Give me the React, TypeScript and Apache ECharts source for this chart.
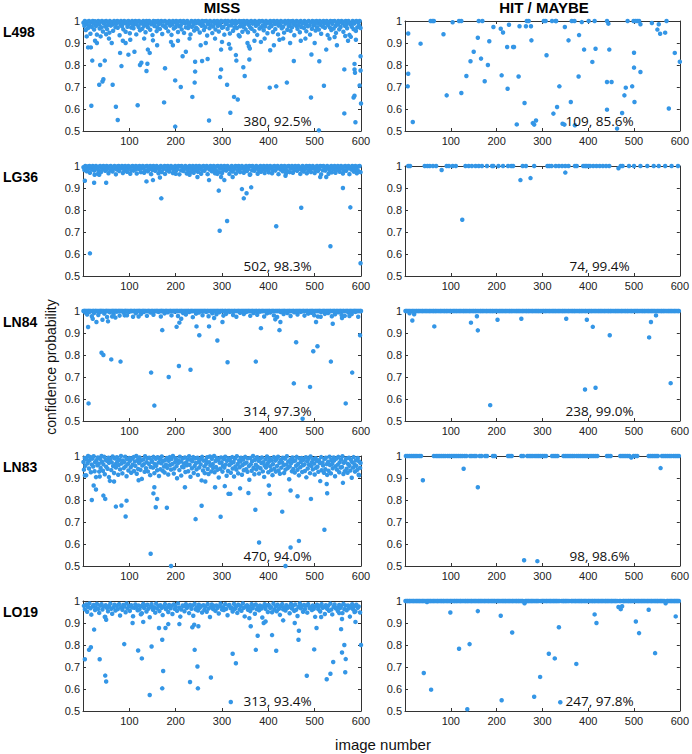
import React, { useEffect, useRef } from "react";
import * as echarts from "echarts";

const columnTitles = ["MISS", "HIT / MAYBE"];
const rowLabels = ["L498", "LG36", "LN84", "LN83", "LO19"];
const annotations = [
  ["380, 92.5%", "109, 85.6%"],
  ["502, 98.3%", "74, 99.4%"],
  ["314, 97.3%", "238, 99.0%"],
  ["470, 94.0%", "98, 98.6%"],
  ["313, 93.4%", "247, 97.8%"],
];
const xAxisName = "image number";
const yAxisName = "confidence probability";

// flat arrays of [image number, confidence in %]
const l498MissOut = [8,93, 11,88, 17,88, 20,82, 18,61.5, 30,90, 37,80, 47,82, 35,71, 42,72.5, 44,73.5, 38,93, 50,94, 62,90, 64,71, 71,61, 75,55, 80,85.5, 83,79.5, 86,91, 98,84.7, 102,91.5, 111,86, 118,61.7, 123,80, 126,81, 137,77.3, 139,80.6, 140,87, 144,85.5, 151,91.2, 175,63, 177,78.5, 190,90.5, 194,89, 199,73, 199,52, 211,70, 215,84, 222,86, 236,65.5, 241,72, 242,77, 242,81.5, 254,89, 257,81.8, 269,82.7, 272,54.8, 296,74.5, 298,78, 298,87, 300,90.5, 311,71, 318,58.3, 318,87.5, 326,65.5, 330,84.5, 331,82, 334,64.3, 338,93, 346,79, 349,75, 355,90, 358,88.5, 360,87.5, 359,82.5, 384,90.5, 403,69.7, 404,86.7, 417,70.3, 424,91.5, 440,72, 455,81.8, 480,92, 492,65.2, 493,84.8, 509,50.3, 510,81.7, 520,70.6, 525,87, 543,92.7, 564,78, 564,58, 566,93.2, 578,92.8, 586,78, 587,76.5, 586,80.5, 599,84, 599,77.5, 597,70.7, 584,65.2, 586,66, 588,54, 600,62.5, 589,91.5, 26,91, 56,92, 92,90, 132,92, 160,89, 205,91, 230,92, 265,90, 285,92, 315,89.5, 370,91, 392,92, 412,89, 432,92, 447,90, 470,91, 500,90, 532,92, 548,89, 572,91];
const l498MissBand = [1,99.2,3,97.8,4,100,6,95.9,8,98.6,9,99.7,11,96.8,13,100,14,98.1,16,94.2,18,99.5,19,97.3,21,100,23,98.8,24,96.1,26,99.9,28,97.7,30,93.8,31,99.1,33,100,35,98.4,36,96.6,38,99.6,40,97.1,41,100,43,95.2,45,98.9,47,99.8,48,97.5,50,100,52,96.3,53,98.2,55,99.4,57,94.7,58,100,60,97.9,62,99.3,64,98.5,65,95.6,67,100,69,99,70,97.2,72,98.7,74,100,75,96.9,77,99.6,79,93.5,81,98.3,82,100,84,97.6,86,99.1,87,96.2,89,100,91,98.9,92,95.1,94,99.7,96,97.4,98,100,99,98.6,101,94.4,103,99.2,104,97,106,100,108,98.1,109,96.7,111,99.5,113,100,115,93.9,116,98.4,118,99.8,120,97.3,121,100,123,95.8,125,98.8,126,99.4,128,96.5,130,100,132,97.8,133,99,135,94.9,137,100,138,98.2,140,97.1,142,99.6,143,100,145,96,147,98.5,149,99.3,150,93.6,152,100,154,97.7,155,98.9,157,99.9,159,95.4,160,97.2,162,100,164,98.6,166,96.4,167,99.1,169,100,171,94.1,172,98,174,99.7,176,97.5,177,100,179,96.9,181,98.8,183,99.4,184,95.3,186,100,188,97.9,189,99.2,191,93.7,193,98.4,194,100,196,96.6,198,99.5,200,97.3,201,100,203,98.7,205,95,206,99.8,208,97.6,210,100,211,98.1,213,96.2,215,99.3,217,100,218,94.6,220,98.9,222,97.1,223,99.6,225,100,227,96.8,228,98.3,230,99,232,93.9,234,100,235,97.4,237,99.7,239,98.5,240,95.7,242,100,244,97,245,99.2,247,96.3,249,100,251,98.8,252,94.8,254,99.5,256,97.8,257,100,259,98.2,261,95.9,262,99.9,264,97.2,266,100,268,93.4,269,98.6,271,99.3,273,96.7,274,100,276,98,278,99.6,279,94.5,281,97.5,283,100,285,98.9,286,96.1,288,99.1,290,100,291,97.7,293,95.2,295,99.4,296,98.3,298,100,300,96.9,302,99.8,303,97.3,305,93.8,307,100,308,98.6,310,99,312,96.4,313,100,315,97.9,317,94.3,319,99.7,320,98.1,322,100,324,95.6,325,99.2,327,97.1,329,100,330,98.7,332,96.8,334,99.5,336,93.6,337,100,339,97.6,341,98.9,342,99.9,344,95.1,346,97.4,347,100,349,98.4,351,96.2,353,99.3,354,100,356,94.9,358,98.2,359,99.6,361,97,363,100,364,96.5,366,98.8,368,99.1,370,95.4,371,100,373,97.8,375,99.4,376,93.7,378,98.5,380,100,381,96.6,383,99.7,385,97.2,387,100,388,98,390,95.8,392,99.2,393,97.5,395,100,397,98.9,398,94.4,400,99.5,402,96.9,404,100,405,98.3,407,97.7,409,99.8,410,95,412,100,414,98.6,415,96.3,417,99,419,100,421,93.9,422,97.9,424,99.3,426,98.1,427,100,429,96.7,431,99.6,432,97.4,434,94.7,436,100,437,98.8,439,99.2,441,96,443,100,444,97.6,446,98.4,448,95.5,449,99.9,451,97.1,453,100,454,98.7,456,93.5,458,99.4,460,97.8,461,100,463,96.4,465,98.2,466,99.7,468,94.9,470,100,471,97.3,473,98.9,475,99.1,477,96.8,478,100,480,98.5,482,95.3,483,99.5,485,97.6,487,100,488,98,490,93.8,492,99.3,494,96.5,495,100,497,97.9,499,99.8,500,98.6,502,95.7,504,100,505,97.2,507,99,509,96.1,511,100,512,98.3,514,94.2,516,99.6,517,97.5,519,100,521,98.8,522,96.9,524,99.2,526,100,528,93.6,529,98.1,531,99.4,533,97,534,100,536,95.9,538,98.7,539,99.9,541,96.6,543,100,545,97.7,546,94.6,548,99.1,550,98.4,551,100,553,96.2,555,99.5,556,97.3,558,100,560,98.9,562,95.1,563,99.7,565,97.8,567,100,568,98.2,570,96.7,572,99.3,573,100,575,93.7,577,98.5,579,99,580,97.4,582,100,584,96.3,585,98.8,587,99.6,589,95.5,590,100,592,97.1,594,99.2,596,98,597,100,599,96.8];
const l498HitOut = [7,94.3, 7,76, 6,70.3, 17,54.1, 34,89.7, 56,100, 63,100, 84,94, 91,66.2, 104,99.4, 118,100, 123,100, 123,67.3, 134,75, 143,81.7, 150,86, 159,92.4, 166,82.9, 174,72.6, 181,80, 161,100, 169,100, 184,90.8, 193,97.3, 209,96.5, 214,94.8, 211,75.3, 224,69.2, 223,88.2, 236,88.2, 238,88.2, 227,98.3, 244,53, 248,74.8, 250,97.6, 261,62.7, 264,97.6, 266,100, 275,97.6, 270,100, 276,91.2, 279,53.6, 282,52.9, 286,54.8, 303,100, 307,100, 309,84.4, 321,100, 329,100, 324,57.9, 332,60.9, 337,70.3, 344,53.3, 348,52.9, 349,97.3, 357,91.2, 362,63.2, 364,100, 370,100, 371,52.6, 380,93.6, 379,74.8, 386,99.5, 391,87, 401,100, 414,100, 409,81.4, 416,87.4, 441,100, 444,98.8, 441,72.3, 451,72.3, 446,87, 441,59.7, 463,51.1, 474,58.2, 479,66.2, 482,69.7, 486,100, 496,70.3, 500,85.6, 500,78.8, 501,63.2, 499,100, 507,100, 511,100, 514,98.5, 514,76.8, 539,99.1, 554,98.5, 551,96.1, 557,94.2, 568,94.7, 571,100, 576,60.2, 589,85.5, 600,81.5, 60,100, 330,100, 503,100];

const lg36MissOut = [4,93.3, 15,60.3, 24,92.4, 25,96, 35,96, 50,92.4, 137,93, 151,93.6, 166,94.8, 169,85.3, 247,95, 272,93.6, 290,96.4, 293,88.8, 295,70.6, 311,75, 298,95, 305,93.6, 323,95, 343,89.5, 347,85.3, 353,87.6, 363,90.3, 417,72.6, 437,95.6, 471,81, 512,95, 525,95, 534,63.5, 561,90, 577,81.2, 599,55.8, 585,97.5, 300,97, 230,96, 200,96.5, 360,96];
const lg36MissBand = [1,99.4,3,98.2,5,100,6,99.1,8,97.6,10,99.8,12,98.7,14,100,15,96.9,17,99.3,19,98.5,21,100,23,99.6,24,97.9,26,98.9,28,100,30,99.2,32,96.4,33,98.1,35,99.7,37,100,39,97.3,41,99,42,98.6,44,100,46,99.5,48,97.8,50,98.3,51,100,53,99.1,55,96.7,57,99.8,59,98,60,100,62,99.4,64,97.5,66,98.8,68,100,69,99.2,71,96.2,73,98.4,75,99.9,77,100,78,97.7,80,99.3,82,98.9,84,100,86,96.8,87,99.6,89,98.2,91,100,93,99,95,97.4,96,98.7,98,100,100,99.5,102,96.5,104,98.1,105,99.8,107,100,109,97.9,111,99.2,113,98.4,114,100,116,96.6,118,99.7,120,98.6,122,100,123,99.1,125,97.2,127,98.9,129,100,131,99.4,132,96.9,134,98,136,99.9,138,100,140,97.6,141,99.3,143,98.5,145,100,147,96.3,149,99.6,150,98.2,152,100,154,99,156,97.8,158,98.8,159,100,161,99.5,163,96.7,165,98.3,167,99.7,168,100,170,97.3,172,99.2,174,98.7,176,100,177,96.4,179,99.8,181,98.1,183,100,185,99.3,186,97.5,188,98.9,190,100,192,99.1,194,96.8,195,98.4,197,99.6,199,100,201,97.9,203,99.4,204,98.6,206,100,208,96.2,210,99.9,212,98,213,100,215,99.2,217,97.7,219,98.8,221,100,222,99.5,224,96.6,226,98.2,228,99.7,230,100,231,97.1,233,99,235,98.5,237,100,239,96.9,240,99.3,242,98.3,244,100,246,99.6,248,97.4,249,98.7,251,100,253,99.1,255,96.5,257,98.1,258,99.8,260,100,262,97.8,264,99.4,266,98.9,267,100,269,96.3,271,99.2,273,98.4,275,100,276,99.7,278,97.6,280,98.6,282,100,284,99,285,96.7,287,98,289,99.9,291,100,293,97.2,294,99.5,296,98.8,298,100,300,96.8,302,99.3,303,98.2,305,100,307,99.6,309,97.9,311,98.5,312,100,314,99.1,316,96.4,318,98.3,320,99.7,321,100,323,97.5,325,99.2,327,98.7,329,100,330,96.6,332,99.8,334,98.1,336,100,338,99.4,339,97.3,341,98.9,343,100,345,99,347,96.9,348,98.4,350,99.6,352,100,354,97.7,356,99.3,357,98.6,359,100,361,96.2,363,99.9,365,98,366,100,368,99.2,370,97.8,372,98.8,374,100,375,99.5,377,96.5,379,98.2,381,99.7,383,100,384,97.4,386,99.1,388,98.5,390,100,392,96.8,393,99.4,395,98.3,397,100,399,99.6,401,97.1,402,98.7,404,100,406,99,408,96.7,410,98.1,411,99.8,413,100,415,97.9,417,99.3,419,98.9,420,100,422,96.3,424,99.2,426,98.4,428,100,429,99.7,431,97.6,433,98.6,435,100,437,99.1,438,96.6,440,98,442,99.9,444,100,446,97.2,447,99.5,449,98.8,451,100,453,96.9,455,99.3,456,98.2,458,100,460,99.6,462,97.8,464,98.5,465,100,467,99,469,96.4,471,98.3,473,99.7,474,100,476,97.5,478,99.2,480,98.7,482,100,483,96.7,485,99.8,487,98.1,489,100,491,99.4,492,97.3,494,98.9,496,100,498,99.1,500,96.8,501,98.4,503,99.6,505,100,507,97.7,509,99.3,510,98.6,512,100,514,96.2,516,99.9,518,98,519,100,521,99.2,523,97.9,525,98.8,527,100,528,99.5,530,96.5,532,98.2,534,99.7,536,100,537,97.1,539,99,541,98.5,543,100,545,96.9,546,99.4,548,98.3,550,100,552,99.6,554,97.4,555,98.7,557,100,559,99.1,561,96.6,563,98.1,564,99.8,566,100,568,97.8,570,99.3,572,98.9,573,100,575,96.3,577,99.2,579,98.4,581,100,582,99.7,584,97.6,586,98.6,588,100,590,99,591,96.7,593,98,595,99.9,597,100,599,97.2];
const lg36HitOut = [80,98.2, 125,75.6, 252,93.6, 274,94.5, 350,97, 466,99];
const lg36HitTopX = [7,11,43,49,54,61,68,91,96,104,111,132,139,146,154,161,168,179,193,204,214,225,232,257,264,282,311,315,329,336,343,350,357,371,375,389,393,396,404,411,418,425,432,439,446,471,475,489,500,514,529,543,554,568,582,596,190,320,400,236];

const ln84MissOut = [11,92.7, 12,58, 21,96.5, 29,95, 42,96, 54,95.3, 40,81, 44,80, 61,78, 81,77, 147,72, 154,57, 171,91.3, 185,70, 202,92.8, 207,75, 208,94.7, 212,96.5, 232,73.3, 245,93, 251,89, 272,93, 283,96.8, 290,86.6, 301,95, 312,76.7, 373,77, 384,92.2, 415,96.2, 424,91.3, 426,95, 455,67.1, 460,85.8, 474,51, 490,65.5, 497,81.7, 506,84, 503,95, 513,97.4, 535,77, 539,94.2, 559,96.8, 567,58, 581,72, 575,97.7, 598,89, 63,97.5, 70,97, 90,98, 120,97.5];
const ln84MissNear = [5,99.3, 9,98.4, 14,99.6, 19,97.6, 24,99.1, 33,98.2, 37,99.5, 46,98.8, 52,97.3, 58,99.4, 66,98.5, 73,99.7, 79,97.9, 88,99.2, 95,98.1, 99,99.6, 108,97.4, 114,99, 125,98.6, 131,99.5, 138,97.8, 146,99.3, 152,98.3, 163,99.6, 168,97.5, 176,98.9, 183,99.4, 191,98, 198,99.7, 205,97.7, 216,99.1, 222,98.4, 229,99.5, 237,97.2, 244,98.8, 250,99.3, 258,98.1, 266,99.6, 271,97.6, 279,99, 288,98.5, 294,99.4, 303,97.9, 309,98.7, 317,99.6, 324,98.2, 331,97.4, 339,99.2, 347,98.6, 352,99.5, 361,97.8, 368,99.1, 376,98.3, 382,99.7, 391,97.5, 397,98.9, 404,99.3, 412,98, 419,97.3, 427,99.5, 433,98.6, 441,99.1, 448,97.7, 456,99.4, 463,98.4, 470,99.6, 478,97.9, 486,98.8, 493,99.2, 499,98.1, 507,97.5, 514,99.5, 522,98.7, 529,99.1, 537,97.6, 544,98.5, 551,99.4, 558,98.2, 565,97.8, 573,99.3, 580,98.6, 588,99.6, 594,97.4];
const ln84MissTopX = [1,3,4,6,8,10,12,13,15,17,20,22,23,26,27,29,31,34,36,38,39,41,43,45,48,50,51,53,55,57,60,62,64,65,67,69,71,72,75,77,78,80,82,84,86,89,91,92,94,96,98,101,103,104,106,109,111,112,115,117,119,121,122,124,127,129,130,132,134,136,139,141,142,144,147,149,150,153,155,157,159,160,162,165,167,169,170,172,174,177,179,180,182,185,187,189,190,193,195,197,199,201,203,204,207,209,211,213,214,217,219,221,223,225,227,228,231,233,235,236,239,241,243,245,247,249,251,253,255,257,259,261,263,264,267,269,270,273,275,277,279,281,283,285,287,289,291,292,295,297,299,301,302,305,307,308,311,313,315,316,319,321,323,326,327,329,332,334,336,337,340,342,344,346,348,350,352,354,356,358,359,362,364,366,367,370,372,374,375,378,380,381,384,386,388,389,392,394,396,398,400,402,403,406,408,410,411,414,416,418,420,422,424,425,428,430,432,434,435,437,440,442,444,446,447,450,452,454,455,458,460,462,464,466,468,469,472,474,476,477,480,482,484,485,488,490,492,494,495,497,500,502,504,506,508,510,511,513,516,518,520,521,524,526,528,530,532,534,535,538,540,542,543,546,548,549,552,554,556,557,560,562,563,566,568,570,571,574,576,578,579,582,584,586,587,589,591,593,595,597,599,600];
const ln84HitOut = [16,95.7, 64,93, 144,94.7, 157,97.6, 159,91.2, 202,96, 254,96.5, 186,57.2, 352,96.5, 397,96, 410,92.8, 393,64.3, 416,65.1, 447,89, 533,88, 537,95, 548,98, 580,67.2, 10,99, 20,98.5];
const ln84HitTopX = [1,3,5,8,10,13,16,18,21,24,26,29,31,34,37,39,42,45,47,50,53,55,58,61,63,66,68,71,74,77,79,82,85,87,90,92,95,98,100,103,106,108,111,113,116,119,121,124,127,129,132,134,137,140,142,145,148,150,153,155,158,161,164,166,169,171,174,177,179,182,185,187,190,192,195,198,200,203,206,208,211,213,216,219,221,224,227,229,232,234,237,240,243,245,248,250,253,256,258,261,264,266,269,271,274,277,279,282,285,287,290,292,295,298,301,303,306,308,311,314,316,319,322,324,327,329,332,335,337,340,343,345,348,350,353,356,358,361,364,366,369,371,374,377,380,382,385,387,390,393,395,398,401,403,406,408,411,414,416,419,422,424,427,429,432,435,437,440,443,445,448,450,453,456,459,461,464,466,469,472,474,477,480,482,485,487,490,493,495,498,501,503,506,508,511,514,517,519,522,524,527,530,532,535,538,540,543,545,548,551,553,556,559,561,564,566,569,572,575,577,580,582,585,588,590,593,596,598];

const ln83MissOut = [4,91.2, 19,80, 28,84.8, 23,86.6, 44,82, 48,80.5, 36,90.7, 56,90.4, 71,77, 83,77.5, 94,79.7, 92,72.5, 67,88.4, 120,89, 146,55.6, 152,83, 154,85.8, 160,80.5, 157,76.7, 181,76.5, 190,50, 220,85.8, 243,71.3, 256,77.4, 264,88.4, 285,85.8, 297,72.4, 306,86.3, 314,82.8, 318,82.8, 339,85.3, 357,83.2, 372,75.6, 380,60.7, 401,86.6, 403,82.8, 430,74.7, 437,50, 448,84.3, 448,58.4, 463,81.7, 466,61.4, 492,80.5, 521,66.5, 526,87.3, 527,83.1, 561,87.8, 596,91.2];
const ln83MissBand = [1,97.3,2,93.8,4,99.1,5,95.6,7,91.2,8,98.4,10,96.7,11,100,13,94.3,14,97.9,16,99.5,17,92.6,19,96.1,20,98.8,22,95.2,23,99.9,25,93.1,26,97.2,28,90.4,29,98.1,31,95.8,32,99.3,34,96.5,35,92.9,37,98.7,38,94.6,40,100,41,97.4,43,93.3,44,96.2,46,99.6,47,91.7,49,98.2,50,95.1,52,97.8,53,94.2,55,99.2,56,96.9,58,88.7,59,98.5,61,93.6,62,97.1,64,99.8,65,95.4,67,92.3,68,98.9,70,96.3,71,94.8,73,99.4,74,97.6,76,91.5,77,95.9,79,98.3,80,93.9,82,100,83,96.6,85,92.1,86,98,88,94.5,89,97.3,91,99.7,92,95.3,94,90.8,95,98.6,97,96.4,98,93.4,100,99.1,101,97.7,103,94.9,104,92.4,106,98.8,107,96,109,99.5,110,93.2,112,97.5,113,95.5,115,100,116,91.9,118,98.2,119,94.1,121,96.8,122,99.3,124,93.7,125,97.9,127,89.6,128,95.7,130,98.4,131,96.2,133,92.8,134,99.9,136,94.4,137,97.2,139,98.9,140,93,142,96.5,143,99.2,145,91.3,146,95,148,98.1,149,97.4,151,94.7,152,99.6,154,92.2,155,96.3,157,98.7,158,95.6,160,93.5,161,99.4,163,97,164,90.9,166,98.5,167,94,169,96.7,170,99.8,172,93.3,173,97.7,175,95.2,176,92.5,178,98.3,179,96.1,181,99.1,182,94.6,184,91.6,185,97.8,187,99.5,188,95.9,190,93.8,191,98.6,193,96.4,194,100,196,92,197,94.3,199,97.3,200,99,202,95.4,203,89.9,205,98,206,96.9,208,93.6,209,99.7,211,97.5,212,91.1,214,95.1,215,98.8,217,94.9,218,96.6,220,99.3,221,92.7,223,97.1,224,95.8,226,98.4,227,93.1,229,99.9,230,96,232,90.6,233,98.2,235,94.4,236,97.6,238,99.5,239,92.3,241,95.5,242,98.9,244,96.8,245,93.9,247,99.2,248,91.4,250,97.4,251,94.8,253,98.5,254,96.2,256,88.9,257,99.6,259,93.4,260,97.9,262,95.3,263,92.2,265,98.1,266,96.5,268,99.4,269,94.1,271,91.8,272,97.2,274,99.8,275,95.7,277,93,278,98.7,280,96.3,281,94.5,283,100,284,92.6,286,97.7,287,95,289,99.1,290,93.7,292,98.3,293,90.2,295,96.9,296,94.2,298,99.3,299,97.1,301,92.9,302,95.6,304,98.6,305,94.7,307,99.7,308,96.1,310,91,311,97.8,313,93.2,314,99,316,95.9,317,98.2,319,92.4,320,96.7,322,99.5,323,94.3,325,97.3,326,90.7,328,98.8,329,95.2,331,93.8,332,99.9,334,96.4,335,92.1,337,98,338,94.9,340,97.5,341,99.2,343,91.5,344,95.8,346,98.4,347,93.5,349,96.6,350,99.6,352,94,353,97,355,92.8,356,98.9,358,95.4,359,89.2,361,99.1,362,96.2,364,93.3,365,97.6,367,100,368,94.6,370,91.7,371,98.3,373,96,374,93.9,376,99.4,377,95.1,379,97.8,380,92,382,98.7,383,94.4,385,96.8,386,99.3,388,93,389,97.2,391,90.5,392,95.7,394,98.5,395,94.8,397,99.8,398,96.5,400,92.6,401,97.4,403,99,404,95.3,406,93.6,407,98.1,409,91.3,410,96.3,412,99.5,413,94.2,415,97.9,416,92.9,418,98.6,419,95.5,421,99.7,422,93.4,424,96.9,425,91.9,427,98.2,428,94.7,430,97.1,431,99.2,433,95.9,434,92.3,436,98.8,437,93.8,439,96.1,440,99.9,442,94.5,443,97.5,445,89.4,446,95.2,448,98.4,449,96.7,451,93.1,452,99.3,454,94.1,455,97.7,457,92.5,458,98,460,95.6,461,99.6,463,93.7,464,96.4,466,91.2,467,98.9,469,94.9,470,97.3,472,99.1,473,92.7,475,95.8,476,98.3,478,96.2,479,93.2,481,99.4,482,90.3,484,97.6,485,94.3,487,98.7,488,96,490,92.2,491,99.8,493,95.4,494,97.2,496,93.9,497,98.5,499,96.6,500,91.6,502,99,503,94.6,505,97.8,506,95.1,508,92.8,509,98.1,511,96.8,512,88.6,514,99.5,515,93.5,517,97,518,95.7,520,92.4,521,98.6,523,94,524,99.2,526,96.3,527,91.4,529,97.4,530,93.3,532,99.7,533,95.9,535,92.1,536,98.2,538,96.5,539,94.4,541,99.3,542,97.9,544,90.8,545,95.3,547,98.8,548,93.8,550,96.1,551,99.6,553,92.6,554,97.1,556,94.8,557,98.4,559,95,560,99.9,562,91.8,563,96.9,565,93.1,566,97.7,568,98.9,569,94.2,571,92.4,572,96.4,574,99.2,575,95.6,577,93.4,578,98.3,580,90.1,581,97.2,583,94.7,584,99.5,586,96.2,587,92.9,589,98,590,95.5,592,93.7,593,99.1,595,91.5,596,97.5,598,94.6,599,96.8];
const ln83HitOut = [39,89, 128,94.2, 159,85.8, 260,52.6, 289,52.2, 558,94.5, 494,99.3];
const ln83HitTopX = [2,10,18,26,35,63,68,76,84,93,101,109,117,121,130,142,151,163,175,192,196,225,233,254,267,275,284,292,300,304,325,329,350,358,366,375,383,391,399,408,420,441,449,470,478,486,499,507,532,540,548,561,569,577,586,594,598,6,14,22,31,72,80,88,97,105,113,125,134,146,155,167,179,229,258,271,279,288,296,308,321,333,346,354,362,370,379,387,395,404,412,416,445,474,482,490,503,536,544,552,565,573,581,590];

const lo19MissOut = [4,73.5, 13,77.8, 17,79, 24,87, 36,73.5, 48,92.7, 50,91.5, 48,66.1, 50,63.4, 89,80.4, 107,90, 119,77.5, 127,73.9, 125,94, 130,90.5, 144,57.3, 148,79.3, 164,87.7, 171,82.4, 173,68.2, 171,60.3, 178,87.7, 184,89.5, 208,89.5, 231,63.2, 236,88.1, 240,89.2, 241,77.8, 247,70.2, 248,60.3, 249,88.5, 276,65.2, 319,54.1, 323,76, 330,71.7, 359,92.2, 362,88.5, 373,77.8, 377,84.2, 390,90, 394,90.7, 408,84.5, 417,77.4, 432,91.2, 457,90, 465,82.4, 466,86.5, 483,66, 499,78, 504,87.7, 514,92.7, 526,64.4, 534,66.9, 540,72.3, 553,94.5, 557,87.2, 559,91.8, 559,76.6, 564,80, 567,73.6, 566,67.6, 588,90.5, 600,80, 586,95];
const lo19MissBand = [2,97.8,4,96.2,7,98.4,9,95.1,11,97.3,14,98.9,16,96.7,18,93.8,21,97.5,23,98.2,26,95.9,28,97,30,98.7,33,96.4,35,94.6,37,97.9,40,98.5,42,96.1,44,97.4,47,92.8,49,98.1,52,96.8,54,95.3,56,97.6,59,98.8,61,96.5,63,94.2,66,97.2,68,98.3,70,95.7,73,97.8,75,96.3,78,98.6,80,93.4,82,97.1,85,96,87,98.2,89,97.5,92,94.9,94,98.9,96,96.6,99,97.7,101,95.5,104,98.1,106,97,108,93.1,111,96.9,113,98.4,115,97.3,118,95.8,120,98,122,96.2,125,97.6,127,94.4,130,98.7,132,96.8,134,97.9,137,95.2,139,98.3,141,96.5,144,92.6,146,97.4,148,98.5,151,96,153,97.2,156,94.7,158,98.8,160,96.6,163,97.7,165,95.4,167,98.1,170,96.9,172,93.6,174,97.5,177,98.6,179,96.3,182,97.1,184,95,186,98.2,189,96.7,191,97.8,193,94.1,196,98.4,198,96.4,200,97.3,203,95.6,205,98.9,208,97,210,92.9,212,96.1,215,98,217,97.6,219,95.3,222,98.5,224,96.8,226,97.4,229,94.5,231,98.2,234,96.5,236,97.9,238,93.3,241,98.7,243,96.2,245,97.1,248,95.7,250,98.3,252,96.9,255,97.7,257,94.8,260,98.1,262,96,264,97.5,267,95.1,269,98.6,271,96.6,274,92.7,276,97.3,278,98.4,281,96.3,283,97.8,286,95.5,288,98,290,96.8,293,94.3,295,97.6,297,98.8,300,96.1,302,97.2,304,95.9,307,98.5,309,96.4,312,93.5,314,97.9,316,98.2,319,96.7,321,97,323,95.2,326,98.7,328,96.5,330,97.4,333,94.6,335,98.3,338,96.2,340,97.7,342,95.6,345,98.9,347,96.9,349,93,352,97.5,354,98.1,356,96,359,97.3,361,95.4,364,98.6,366,96.7,368,97.8,371,94.2,373,98.4,375,96.3,378,97.1,380,95.8,382,98,385,96.6,387,92.5,390,97.6,392,98.5,394,96.4,397,97.9,399,95,401,98.2,404,96.8,406,97.2,408,94.9,411,98.8,413,96.1,416,97.5,418,95.3,420,98.3,423,96.5,425,93.7,427,97.7,430,98.6,432,96.2,434,97,437,95.7,439,98.1,442,96.9,444,97.4,446,94.4,449,98.7,451,96.6,453,97.8,456,95.5,458,98.4,460,96,463,93.2,465,97.3,468,98.9,470,96.7,472,97.6,475,95.1,477,98.2,479,96.3,482,97.9,484,94.7,486,98.5,489,96.8,491,97.1,494,95.9,496,98,498,96.4,501,92.8,503,97.5,505,98.3,508,96.2,510,97.7,512,95.2,515,98.6,517,96.9,520,97.2,522,94.1,524,98.1,527,96.5,529,97.8,531,95.6,534,98.8,536,96.1,538,93.9,541,97.4,543,98.4,546,96.6,548,97,550,95.4,553,98.2,555,96.8,557,97.6,560,94.5,562,98.7,564,96.3,567,97.9,569,95.8,572,98,574,96.7,576,92.9,579,97.3,581,98.5,583,96.2,586,97.7,588,95.3,590,98.3,593,96.9,595,97.5,598,94.8];
const lo19HitOut = [41,67.3, 57,59.7, 99,94.8, 118,78.3, 141,80.4, 136,50.8, 159,95.4, 211,54.9, 209,93.3, 234,85.7, 282,56.5, 295,65.5, 314,76, 327,73.9, 336,88.1, 339,54, 374,71.4, 414,93.9, 418,90, 466,97.3, 471,96.3, 474,97.6, 504,90.7, 511,85.4, 532,96, 546,76.3, 569,99, 591,93, 261,99, 48,99.5];
const lo19HitTopX = [1,4,6,9,11,14,17,19,22,25,27,30,32,35,38,40,43,46,49,51,54,56,59,62,64,67,70,72,75,78,80,83,85,88,91,93,96,99,101,104,107,109,112,114,117,120,122,125,128,131,133,136,138,141,144,146,149,152,154,157,160,162,165,167,170,173,175,178,181,183,186,189,191,194,196,199,202,204,207,210,213,215,218,220,223,226,228,231,234,236,239,242,244,247,249,252,255,257,263,265,268,270,273,276,278,281,284,287,289,292,297,300,302,305,308,310,313,316,318,321,324,326,329,331,334,337,342,345,347,350,352,355,358,363,365,368,371,373,376,379,381,384,386,389,392,394,397,400,402,405,408,410,413,415,418,421,423,426,429,431,434,437,439,442,444,447,450,452,455,458,460,463,468,471,476,478,481,484,487,489,492,494,497,500,502,505,508,510,513,516,518,521,523,526,529,531,534,537,539,542,545,547,550,552,555,558,560,563,566,572,574,577,580,582,585,588,590,593,595,598];

const pairs = (flat: number[]) => {
  const out: number[][] = [];
  for (let i = 0; i < flat.length; i += 2) out.push([flat[i], flat[i + 1] / 100]);
  return out;
};
const tops = (xs: number[]) => xs.map((x) => [x, 1]);

const panelData = [
  [pairs(l498MissOut).concat(pairs(l498MissBand)), pairs(l498HitOut)],
  [pairs(lg36MissOut).concat(pairs(lg36MissBand)), pairs(lg36HitOut).concat(tops(lg36HitTopX))],
  [pairs(ln84MissOut).concat(pairs(ln84MissNear), tops(ln84MissTopX)), pairs(ln84HitOut).concat(tops(ln84HitTopX))],
  [pairs(ln83MissOut).concat(pairs(ln83MissBand)), pairs(ln83HitOut).concat(tops(ln83HitTopX))],
  [pairs(lo19MissOut).concat(pairs(lo19MissBand)), pairs(lo19HitOut).concat(tops(lo19HitTopX))],
];

const GRID_LEFT = [83, 405];
const GRID_W = 278;
const GRID_TOP = [21, 166, 311, 456, 601];
const GRID_H = 110;
const DOT = "#3496e6";
const AX = "#333";
const FONT = '"Liberation Sans", Arial, sans-serif';

export default function App() {
  const ref = useRef<HTMLDivElement>(null);
  useEffect(() => {
    if (!ref.current) return;
    const chart = echarts.init(ref.current, undefined, { renderer: "svg" });
    const grids: any[] = [];
    const xAxes: any[] = [];
    const yAxes: any[] = [];
    const series: any[] = [];
    const graphics: any[] = [];
    const tickCommon = { inside: true, length: 3, lineStyle: { color: AX, width: 1 } };
    const lineCommon = { show: true, onZero: false, lineStyle: { color: AX, width: 1 } };
    for (let r = 0; r < 5; r++) {
      for (let c = 0; c < 2; c++) {
        const gi = r * 2 + c;
        grids.push({ left: GRID_LEFT[c], top: GRID_TOP[r], width: GRID_W, height: GRID_H, containLabel: false });
        const xBase = { gridIndex: gi, type: "value", min: 0, max: 600, interval: 100, splitLine: { show: false }, axisLine: lineCommon, axisTick: tickCommon };
        xAxes.push({
          ...xBase,
          position: "bottom",
          axisLabel: { fontSize: 11, color: "#222", margin: 4, fontFamily: FONT, formatter: (v: number) => (v === 0 ? "" : String(v)) },
        });
        xAxes.push({ ...xBase, position: "top", axisLabel: { show: false } });
        const yBase = { gridIndex: gi, type: "value", min: 0.5, max: 1, interval: 0.1, splitLine: { show: false }, axisLine: lineCommon, axisTick: tickCommon };
        yAxes.push({
          ...yBase,
          position: "left",
          axisLabel: { fontSize: 11, color: "#222", margin: 3, fontFamily: FONT, formatter: (v: number) => (Math.abs(v - 1) < 1e-9 ? "1" : v.toFixed(1)) },
        });
        yAxes.push({ ...yBase, position: "right", axisLabel: { show: false } });
        series.push({
          type: "scatter",
          xAxisIndex: gi * 2,
          yAxisIndex: gi * 2,
          data: panelData[r][c],
          symbol: "circle",
          symbolSize: 4.5,
          clip: false,
          itemStyle: { color: DOT, opacity: 1 },
          silent: true,
        });
        graphics.push({
          type: "text",
          x: GRID_LEFT[c] + (420 / 600) * GRID_W,
          y: GRID_TOP[r] + 100,
          z: 10,
          style: { text: annotations[r][c], font: '13.5px "Open Sans", sans-serif', fill: "#111", textAlign: "center", textVerticalAlign: "middle" },
        });
      }
      graphics.push({
        type: "text",
        x: 3,
        y: GRID_TOP[r] + 11,
        style: { text: rowLabels[r], font: 'bold 14px "Liberation Sans", Arial, sans-serif', fill: "#000", textAlign: "left", textVerticalAlign: "middle" },
      });
    }
    for (let c = 0; c < 2; c++) {
      graphics.push({
        type: "text",
        x: GRID_LEFT[c] + GRID_W / 2,
        y: 7,
        style: { text: columnTitles[c], font: 'bold 15px "Liberation Sans", Arial, sans-serif', fill: "#000", textAlign: "center", textVerticalAlign: "middle" },
      });
    }
    graphics.push({
      type: "text",
      x: 51,
      y: 367,
      rotation: Math.PI / 2,
      style: { text: yAxisName, font: '14px "Liberation Sans", Arial, sans-serif', fill: "#111", textAlign: "center", textVerticalAlign: "middle" },
    });
    graphics.push({
      type: "text",
      x: (GRID_LEFT[0] + GRID_LEFT[1] + GRID_W) / 2,
      y: 744,
      style: { text: xAxisName, font: '15px "Liberation Sans", Arial, sans-serif', fill: "#111", textAlign: "center", textVerticalAlign: "middle" },
    });
    chart.setOption({
      animation: false,
      backgroundColor: "#fff",
      grid: grids,
      xAxis: xAxes,
      yAxis: yAxes,
      series,
      graphic: graphics,
    });
    return () => chart.dispose();
  }, []);
  return <div ref={ref} style={{ position: "absolute", left: 0, top: 0, width: 692, height: 754 }} />;
}
